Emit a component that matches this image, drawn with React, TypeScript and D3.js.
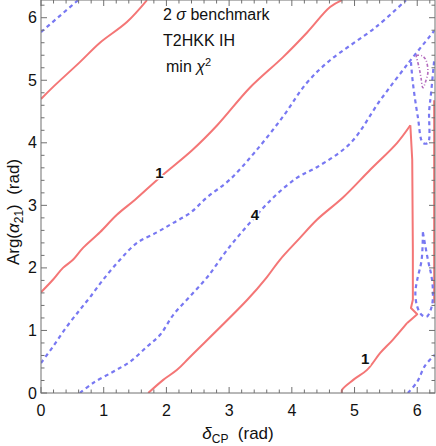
import React from "react";
import * as d3 from "d3";

type P = [number, number];

// Contour polylines (x = δCP, y = Arg(α21), radians)
const red1Upper: P[] = [[0, 4.70], [0.19, 4.89], [0.62, 5.29], [0.94, 5.60], [1.37, 5.93], [1.69, 6.28]];
const red1Mid: P[] = [[0, 1.61], [0.19, 1.81], [0.35, 2.0], [0.51, 2.13], [0.67, 2.32], [0.94, 2.57], [1.21, 2.85], [1.5, 3.09], [1.9, 3.45], [2.41, 3.88], [2.81, 4.28], [3.33, 4.88], [3.86, 5.37], [4.24, 5.76], [4.61, 6.17], [4.8, 6.28]];
const red1LowerA: P[] = [[1.71, 0], [1.95, 0.21], [2.17, 0.37], [2.38, 0.58], [3.29, 1.49], [3.6, 1.85], [3.81, 2.13], [4.13, 2.48], [4.4, 2.77], [4.82, 3.13], [5.25, 3.57], [5.68, 4.0], [5.89, 4.28]];
const red1LowerB: P[] = [[5.89, 4.28], [5.92, 3.73], [5.93, 2.29], [5.93, 1.49], [5.9, 1.36], [6.0, 1.26], [5.84, 1.12]];
const red1LowerC: P[] = [[5.84, 1.12], [5.61, 0.85], [5.41, 0.64], [5.2, 0.37], [4.98, 0.21], [4.8, 0.05], [4.8, 0]];
const red1Edge: P[] = [[6.27, 4.68], [6.27, 1.44]];

const blue4Corner: P[] = [[0, 5.77], [0.59, 6.28]];
const blue4A: P[] = [[0, 0.48], [0.19, 0.74], [0.41, 1.06], [0.62, 1.33], [0.78, 1.53], [0.99, 1.81], [1.26, 2.13], [1.53, 2.4], [1.85, 2.57], [2.11, 2.72], [2.38, 2.88], [2.65, 3.13], [3.01, 3.41], [3.41, 3.85], [3.86, 4.42], [4.24, 4.96], [4.61, 5.32], [5.34, 5.85], [5.82, 6.28]];
const blue4B: P[] = [[0.62, 0], [0.83, 0.16], [1.15, 0.34], [1.42, 0.5], [1.69, 0.74], [1.9, 0.93], [2.11, 1.25], [2.38, 1.55], [2.65, 1.85], [2.97, 2.29], [3.33, 2.72], [3.7, 3.12], [4.08, 3.44], [4.4, 3.61], [4.93, 3.99], [5.41, 4.68], [5.87, 5.29], [6.19, 5.69], [6.27, 5.79]];
const blue4V: P[] = [[5.9, 5.29], [5.93, 4.96], [6.01, 4.41], [6.09, 4.0], [6.17, 4.0], [6.19, 4.51], [6.22, 4.79], [6.27, 5.32]];
const blue4Loop: P[] = [[6.09, 2.57], [6.07, 2.13], [6.0, 1.81], [5.97, 1.6], [6.0, 1.38], [6.07, 1.25], [6.15, 1.22], [6.23, 1.38], [6.25, 1.6], [6.23, 1.85], [6.17, 2.13], [6.09, 2.57]];
const blue4Lower: P[] = [[5.85, 0], [6.0, 0.18], [6.12, 0.43], [6.28, 0.61]];

const purpleLoop: P[] = [[5.98, 5.4], [6.08, 5.39], [6.14, 5.32], [6.17, 5.13], [6.14, 5.0], [6.09, 4.88], [6.06, 5.04], [6.03, 5.2], [5.98, 5.4]];

const majorTicks = [0, 1, 2, 3, 4, 5, 6];
const minorTicks = d3.range(1, 32).map((i) => i * 0.2).filter((v) => Math.abs(v - Math.round(v)) > 0.01);

const contourLabels: { text: string; x: number; y: number }[] = [
  { text: "1", x: 1.89, y: 3.52 },
  { text: "4", x: 3.41, y: 2.85 },
  { text: "1", x: 5.17, y: 0.55 },
];

const annotations = ["2 σ benchmark", "T2HKK IH", "min χ2"];

export default function App() {
  const W = 436, H = 446;
  const x0 = 41, x1 = 435, y0 = 393, y1 = 0;
  const x = d3.scaleLinear().domain([0, 2 * Math.PI]).range([x0, x1]);
  const y = d3.scaleLinear().domain([0, 2 * Math.PI]).range([y0, y1]);
  const smooth = d3.line<P>().x((d) => x(d[0])).y((d) => y(d[1])).curve(d3.curveCatmullRom.alpha(0.5));
  const straight = d3.line<P>().x((d) => x(d[0])).y((d) => y(d[1]));

  const red = "#f47676";
  const blue = "#7878f2";
  const axis = "#707070";
  const font = "Liberation Sans, Arial, sans-serif";

  const reds: [P[], boolean][] = [[red1Upper, true], [red1Mid, true], [red1LowerA, true], [red1LowerB, false], [red1LowerC, true], [red1Edge, false]];
  const blues: [P[], boolean][] = [[blue4Corner, true], [blue4A, true], [blue4B, true], [blue4V, true], [blue4Loop, true], [blue4Lower, true]];

  return (
    <svg width={W} height={H} style={{ position: "absolute", left: 0, top: 0, background: "#fff" }} fontFamily={font}>
      <defs>
        <clipPath id="plot">
          <rect x={x0} y={y1} width={x1 - x0} height={y0 - y1} />
        </clipPath>
      </defs>
      <g clipPath="url(#plot)" fill="none" strokeLinejoin="round">
        {reds.map(([d, s], i) => (
          <path key={"r" + i} d={(s ? smooth(d) : straight(d)) || ""} stroke={red} strokeWidth={2} />
        ))}
        {blues.map(([d, s], i) => (
          <path key={"b" + i} d={(s ? smooth(d) : straight(d)) || ""} stroke={blue} strokeWidth={2.2} strokeDasharray="4,3.5" />
        ))}
        <path d={smooth(purpleLoop) || ""} stroke="#b46cbe" strokeWidth={1.6} strokeDasharray="3,2,1,2" />
      </g>
      {/* frame */}
      <rect x={x0} y={y1} width={x1 - x0} height={y0 - y1} fill="none" stroke={axis} strokeWidth={1} />
      {/* ticks */}
      <g stroke={axis} strokeWidth={1}>
        {majorTicks.map((t) => (
          <g key={"M" + t}>
            <line x1={x(t)} x2={x(t)} y1={y0} y2={y0 - 6} />
            <line x1={x(t)} x2={x(t)} y1={y1} y2={y1 + 6} />
            <line x1={x0} x2={x0 + 6} y1={y(t)} y2={y(t)} />
            <line x1={x1} x2={x1 - 6} y1={y(t)} y2={y(t)} />
          </g>
        ))}
        {minorTicks.map((t) => (
          <g key={"m" + t}>
            <line x1={x(t)} x2={x(t)} y1={y0} y2={y0 - 3.5} />
            <line x1={x(t)} x2={x(t)} y1={y1} y2={y1 + 3.5} />
            <line x1={x0} x2={x0 + 3.5} y1={y(t)} y2={y(t)} />
            <line x1={x1} x2={x1 - 3.5} y1={y(t)} y2={y(t)} />
          </g>
        ))}
      </g>
      {/* tick labels */}
      <g fontSize={16} fill="#111">
        {majorTicks.map((t) => (
          <text key={"xl" + t} x={x(t)} y={416} textAnchor="middle">{t}</text>
        ))}
        {majorTicks.map((t) => (
          <text key={"yl" + t} x={37} y={y(t)} textAnchor="end" dominantBaseline="central">{t}</text>
        ))}
      </g>
      {/* axis titles */}
      <text x={238} y={439} textAnchor="middle" fontSize={17} fill="#111">
        <tspan fontStyle="italic">δ</tspan>
        <tspan fontSize={12} dy={4}>CP</tspan>
        <tspan dy={-4} xmlSpace="preserve">{"  (rad)"}</tspan>
      </text>
      <text transform="translate(19,212) rotate(-90)" textAnchor="middle" fontSize={17} fill="#111">
        <tspan>Arg(</tspan>
        <tspan fontStyle="italic">α</tspan>
        <tspan fontSize={12} dy={4}>21</tspan>
        <tspan dy={-4} xmlSpace="preserve">{")  (rad)"}</tspan>
      </text>
      {/* annotations */}
      <g fontSize={16} fill="#111">
        <text x={163} y={20}>
          <tspan>2 </tspan>
          <tspan fontStyle="italic">σ</tspan>
          <tspan> benchmark</tspan>
        </text>
        <text x={163} y={46}>{annotations[1]}</text>
        <text x={166} y={72}>
          <tspan>min </tspan>
          <tspan fontStyle="italic">χ</tspan>
          <tspan fontSize={11} dy={-6}>2</tspan>
        </text>
      </g>
      {/* contour labels */}
      {contourLabels.map((l, i) => (
        <text key={"cl" + i} x={x(l.x)} y={y(l.y)} textAnchor="middle" dominantBaseline="central"
          fontSize={15} fontWeight="bold" fill="#111" stroke="#fff" strokeWidth={3} paintOrder="stroke">
          {l.text}
        </text>
      ))}
    </svg>
  );
}
